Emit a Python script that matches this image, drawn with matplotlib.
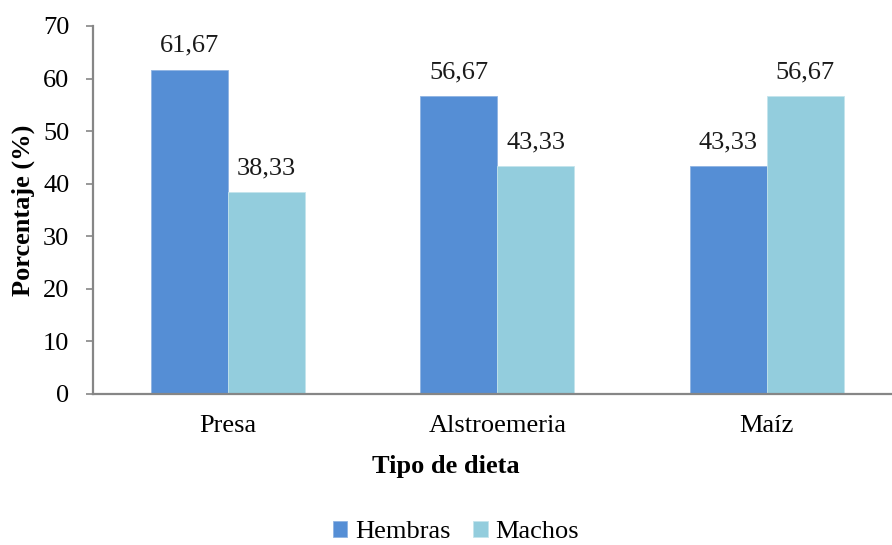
import matplotlib
matplotlib.use("Agg")
import matplotlib.pyplot as plt
import numpy as np

categories = ["Presa", "Alstroemeria", "Maíz"]
hembras = [61.67, 56.67, 43.33]
machos = [38.33, 43.33, 56.67]
series_names = ["Hembras", "Machos"]
yticks = [0, 10, 20, 30, 40, 50, 60, 70]

FS = 19
plt.rcParams["font.family"] = ["Liberation Serif", "DejaVu Serif"]
plt.rcParams["font.size"] = FS

W, H = 892, 545
fig = plt.figure(figsize=(W / 100, H / 100), dpi=100)
ax = fig.add_axes([93 / W, 1 - 394 / H, 808.5 / W, 368 / H])

x = np.arange(len(categories))
bw = 1 / 3.5
c_h = "#558ED5"
c_m = "#93CDDD"
b1 = ax.bar(x - bw / 2, hembras, bw, color=c_h, edgecolor="#8fb4e3", linewidth=0.6, label=series_names[0], zorder=2)
b2 = ax.bar(x + bw / 2, machos, bw, color=c_m, edgecolor="#c4e4ec", linewidth=0.6, label=series_names[1], zorder=2)

def fmt(v):
    return f"{v:.2f}".replace(".", ",")

for bars, vals in ((b1, hembras), (b2, machos)):
    for rect, v in zip(bars, vals):
        ax.annotate(fmt(v), (rect.get_x() + rect.get_width() / 2, v),
                    xytext=(0, 13), textcoords="offset points",
                    ha="center", va="baseline", fontsize=FS, color="#1a1a1a")

ax.set_xlim(-0.5, 2.5)
ax.set_ylim(0, 70)
ax.set_yticks(yticks)
ax.set_xticks(x)
ax.set_xticklabels(categories)
ax.tick_params(axis="x", length=0, pad=15, labelsize=FS)
ax.tick_params(axis="y", length=5, width=1.2, color="#868686", pad=12, labelsize=FS)

for s in ("top", "right"):
    ax.spines[s].set_visible(False)
for s in ("left", "bottom"):
    ax.spines[s].set_color("#868686")
    ax.spines[s].set_linewidth(1.6)

ax.set_ylabel("Porcentaje (%)", fontweight="bold", fontsize=FS)
ax.yaxis.set_label_coords(-(93 - 35) / 808.5, (394 - 210) / 368)
ax.set_xlabel("Tipo de dieta", fontweight="bold", fontsize=FS)
ax.xaxis.set_label_coords((446 - 93) / 808.5, -(455 - 394) / 368)

fig.legend(handles=[b1, b2], labels=series_names, loc="center",
           bbox_to_anchor=(456 / W, 1 - 532 / H), ncol=2, frameon=False,
           handlelength=0.55, handleheight=0.55, handletextpad=0.3,
           columnspacing=0.85, fontsize=FS, borderpad=0.1)

fig.savefig("out.png", dpi=100)
